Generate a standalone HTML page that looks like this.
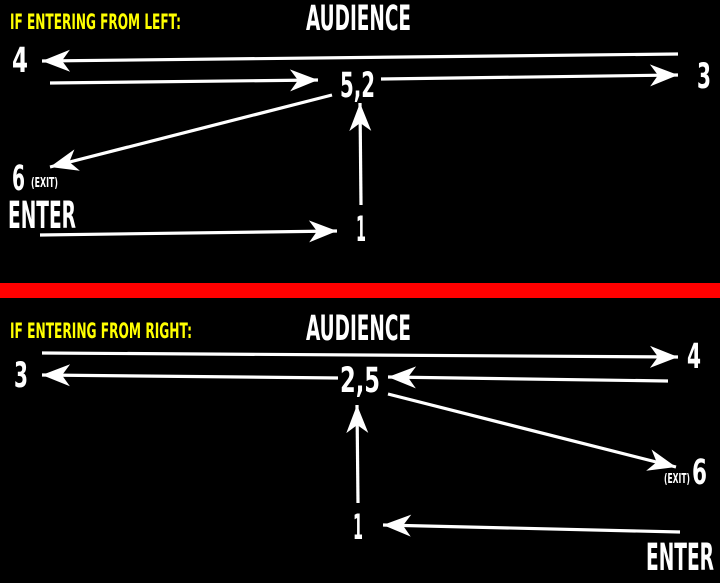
<!DOCTYPE html>
<html><head><style>
html,body{margin:0;padding:0;background:#000;width:720px;height:583px;overflow:hidden}
text{font-family:"DejaVu Sans Condensed","Liberation Sans Narrow","Liberation Sans",sans-serif;font-weight:bold;fill:#fff}
</style></head><body>
<svg width="720" height="583" viewBox="0 0 720 583" xmlns="http://www.w3.org/2000/svg">
<defs>
<marker id="a" markerUnits="userSpaceOnUse" markerWidth="40" markerHeight="30" refX="30" refY="12" orient="auto">
<path d="M30,12 L2,1 L10,12 L2,23 Z" fill="#fff"/>
</marker>
</defs>
<rect x="0" y="283" width="720" height="15" fill="#ff0000"/>
<g stroke="#fff" stroke-width="3.2" fill="none" marker-end="url(#a)">
<line x1="678" y1="54" x2="42" y2="61"/>
<line x1="50" y1="83" x2="318" y2="80"/>
<line x1="381" y1="79" x2="678" y2="75"/>
<line x1="332" y1="95" x2="50" y2="167"/>
<line x1="361" y1="205" x2="360" y2="103"/>
<line x1="40" y1="235" x2="337" y2="231"/>
<line x1="42" y1="353" x2="678" y2="357"/>
<line x1="338" y1="378" x2="42" y2="375"/>
<line x1="668" y1="381" x2="388" y2="377"/>
<line x1="388" y1="394" x2="676" y2="467"/>
<line x1="358" y1="503" x2="357" y2="405"/>
<line x1="680" y1="532" x2="383" y2="525"/>
</g>
<text x="10" y="29" font-size="21" textLength="171" lengthAdjust="spacingAndGlyphs" style="fill:#ffff00">IF ENTERING FROM LEFT:</text>
<text x="306" y="30" font-size="35" textLength="105" lengthAdjust="spacingAndGlyphs">AUDIENCE</text>
<text x="12" y="72" font-size="35" textLength="16" lengthAdjust="spacingAndGlyphs">4</text>
<text x="340" y="97" font-size="35" textLength="35" lengthAdjust="spacingAndGlyphs">5,2</text>
<text x="697" y="88" font-size="35" textLength="14" lengthAdjust="spacingAndGlyphs">3</text>
<text x="12" y="190" font-size="35" textLength="13" lengthAdjust="spacingAndGlyphs">6</text>
<text x="31" y="187" font-size="13" textLength="27" lengthAdjust="spacingAndGlyphs">(EXIT)</text>
<text x="8" y="228" font-size="37" textLength="68" lengthAdjust="spacingAndGlyphs">ENTER</text>
<text x="356" y="241" font-size="35" textLength="10" lengthAdjust="spacingAndGlyphs">1</text>

<text x="10" y="338" font-size="21" textLength="182" lengthAdjust="spacingAndGlyphs" style="fill:#ffff00">IF ENTERING FROM RIGHT:</text>
<text x="306" y="340" font-size="35" textLength="105" lengthAdjust="spacingAndGlyphs">AUDIENCE</text>
<text x="14" y="387" font-size="35" textLength="14" lengthAdjust="spacingAndGlyphs">3</text>
<text x="340" y="392" font-size="35" textLength="40" lengthAdjust="spacingAndGlyphs">2,5</text>
<text x="687" y="368" font-size="35" textLength="14" lengthAdjust="spacingAndGlyphs">4</text>
<text x="692" y="484" font-size="35" textLength="15" lengthAdjust="spacingAndGlyphs">6</text>
<text x="664" y="483" font-size="13" textLength="26" lengthAdjust="spacingAndGlyphs">(EXIT)</text>
<text x="353" y="539" font-size="35" textLength="10" lengthAdjust="spacingAndGlyphs">1</text>
<text x="646" y="570" font-size="37" textLength="68" lengthAdjust="spacingAndGlyphs">ENTER</text>
</svg>
</body></html>
